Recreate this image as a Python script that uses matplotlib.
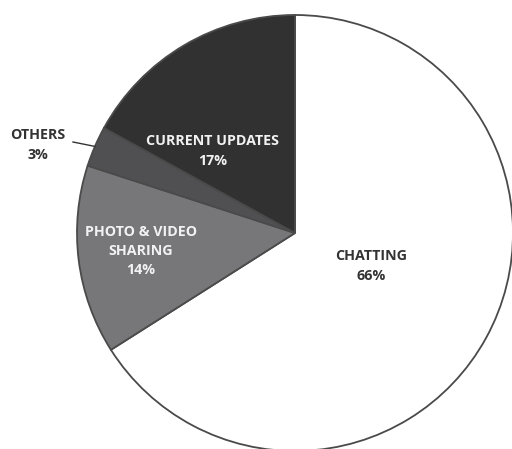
import numpy as np
import matplotlib.pyplot as plt

# Share of time spent on each activity
categories = ['CHATTING', 'PHOTO & VIDEO\nSHARING', 'OTHERS', 'CURRENT UPDATES']
shares = [66, 14, 3, 17]
colors = ['#ffffff', '#77777a', '#505052', '#313131']
text_colors = ['#333333', '#f2f2f2', '#333333', '#f2f2f2']

plt.rcParams['font.family'] = ['Open Sans', 'DejaVu Sans']

fig = plt.figure(figsize=(5.12, 4.49), dpi=100)
ax = fig.add_axes([0, 0, 1, 1])

cx, cy, r = 295, 216, 218
wedges, _ = ax.pie(shares, colors=colors, startangle=90, counterclock=False,
                   center=(cx, cy), radius=r, frame=True,
                   wedgeprops=dict(edgecolor='#4a4a4a', linewidth=1.3))
ax.set_xlim(0, 512)
ax.set_ylim(0, 449)
ax.axis('off')

# label anchor positions (pixel coords, y up)
label_pos = [(371, 183), (141, 198), (38, 304), (213, 298)]

for w, cat, val, (lx, ly), tc in zip(wedges, categories, shares, label_pos, text_colors):
    ax.text(lx, ly, f'{cat}\n{val}%', ha='center', va='center', color=tc,
            fontsize=10.3, fontweight='bold', linespacing=1.5)

# leader line for the small slice
w = wedges[2]
mid = np.deg2rad((w.theta1 + w.theta2) / 2)
px, py = cx + r * np.cos(mid), cy + r * np.sin(mid)
ax.plot([73, px], [307, py], color='#333333', linewidth=1)

fig.savefig('out.png', dpi=100)
